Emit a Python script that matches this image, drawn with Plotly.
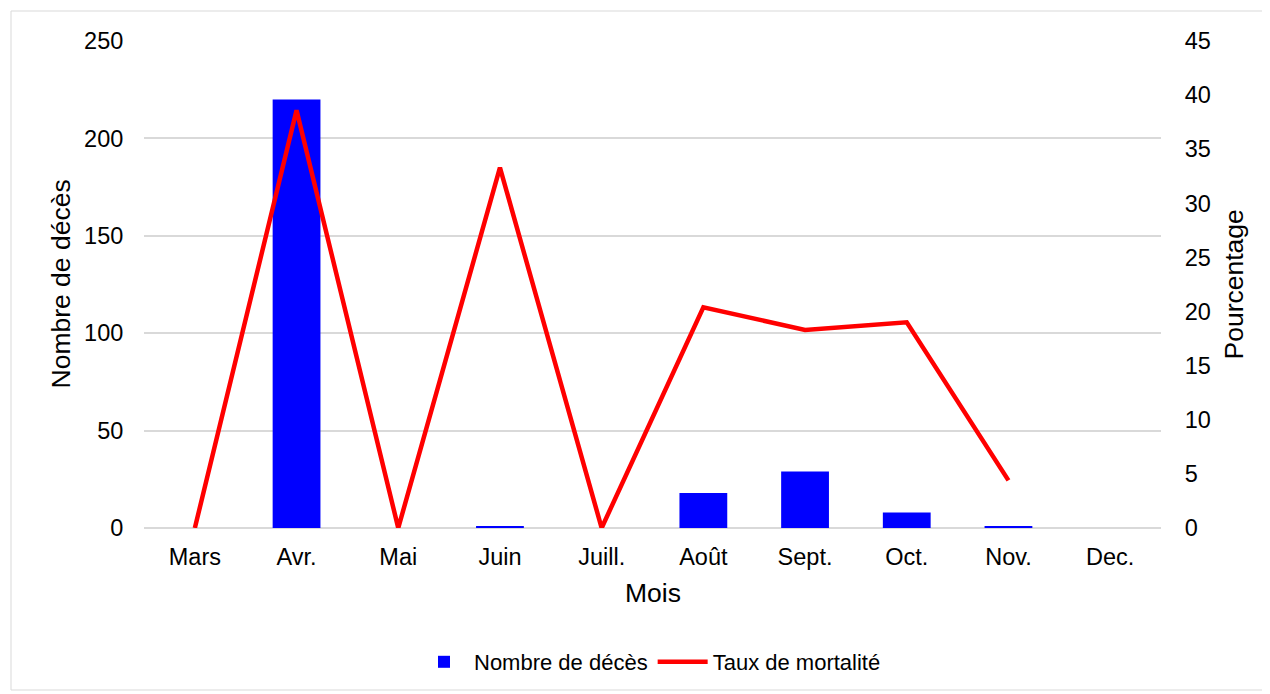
import plotly.graph_objects as go

mois = ["Mars", "Avr.", "Mai", "Juin", "Juill.", "Août", "Sept.", "Oct.", "Nov.", "Dec."]
nombre_deces = [0, 220, 0, 1, 0, 18, 29, 8, 1, 0]
taux_mortalite = [0, 38.6, 0, 33.3, 0, 20.4, 18.3, 19.0, 4.4, None]
left_ticks = [0, 50, 100, 150, 200, 250]
right_ticks = [0, 5, 10, 15, 20, 25, 30, 35, 40, 45]

FONT = "Liberation Sans, Arial, sans-serif"
TICK_FS = 23.5
TITLE_FS = 26.5
LEG_FS = 22

# page offset of the plot div (body margin) is 8 px
PL, PR, PT, PB = 144, 1161, 41, 528  # plot area in page coordinates
PW, PH = PR - PL, PB - PT


def px(x):
    return (x - PL) / PW


def py(y):
    return (PB - y) / PH


fig = go.Figure()
fig.add_trace(go.Bar(x=mois, y=nombre_deces, name="Nombre de décès",
                     marker=dict(color="#0000ff", line=dict(width=0)), yaxis="y"))
fig.add_trace(go.Scatter(x=mois, y=taux_mortalite, name="Taux de mortalité",
                         mode="lines", line=dict(color="#ff0000", width=4.5),
                         yaxis="y2"))

fig.update_layout(
    width=1262, height=686,
    margin=dict(l=PL - 8, r=1262 - (PR - 8), t=PT - 8, b=686 - (PB - 8), autoexpand=False),
    paper_bgcolor="white", plot_bgcolor="white",
    font=dict(family=FONT, size=TICK_FS, color="#000000"),
    bargap=0.53,
    showlegend=True,
    legend=dict(orientation="h", x=px(650), xanchor="center", y=py(662), yanchor="middle",
                font=dict(family=FONT, size=LEG_FS), itemwidth=50, traceorder="normal"),
    xaxis=dict(type="category", range=[-0.5, 9.5], showgrid=False, showline=False,
               zeroline=False, ticks="outside", ticklen=8, tickcolor="rgba(0,0,0,0)",
               tickfont=dict(family=FONT, size=TICK_FS), fixedrange=True),
    yaxis=dict(range=[0, 250], tickvals=left_ticks, showgrid=True, gridcolor="#d9d9d9",
               gridwidth=2, zeroline=True, zerolinecolor="#d9d9d9", zerolinewidth=2,
               showline=False, ticks="outside", ticklen=15, tickcolor="rgba(0,0,0,0)",
               tickfont=dict(family=FONT, size=TICK_FS)),
    yaxis2=dict(range=[0, 45], tickvals=right_ticks, overlaying="y", side="right",
                showgrid=False, zeroline=False, showline=False, ticks="outside",
                ticklen=18, tickcolor="rgba(0,0,0,0)",
                tickfont=dict(family=FONT, size=TICK_FS)),
    annotations=[
        dict(text="Nombre de décès", xref="paper", yref="paper",
             x=px(60), y=0.5, xanchor="center", yanchor="middle",
             textangle=-90, showarrow=False, font=dict(family=FONT, size=TITLE_FS)),
        dict(text="Pourcentage", xref="paper", yref="paper",
             x=px(1233), y=0.5, xanchor="center", yanchor="middle",
             textangle=-90, showarrow=False, font=dict(family=FONT, size=TITLE_FS)),
        dict(text="Mois", xref="paper", yref="paper",
             x=0.5, y=py(593), xanchor="center", yanchor="middle",
             showarrow=False, font=dict(family=FONT, size=TITLE_FS)),
    ],
    shapes=[
        dict(type="rect", xref="paper", yref="paper",
             x0=px(11), x1=px(1268), y0=py(690), y1=py(11),
             line=dict(color="#d9d9d9", width=1), fillcolor="rgba(0,0,0,0)",
             layer="below"),
    ],
)

fig.write_html("out.html")
